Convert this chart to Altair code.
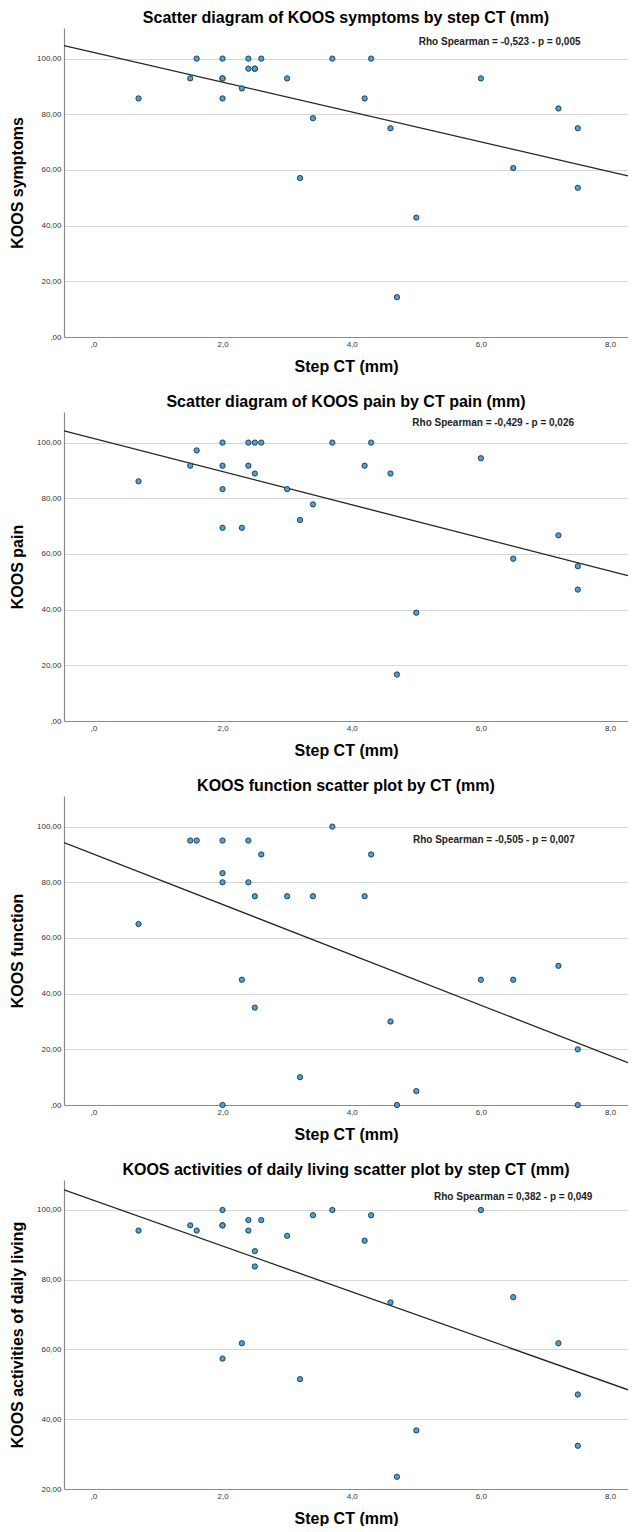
import altair as alt
import pandas as pd

# Step CT (mm), same patients in all four panels
step_ct = [0.7, 1.5, 1.6, 2.0, 2.0, 2.0, 2.0, 2.3, 2.4, 2.4, 2.5, 2.5, 2.6, 3.0,
           3.2, 3.4, 3.7, 4.2, 4.3, 4.6, 4.7, 5.0, 6.0, 6.5, 7.2, 7.5, 7.5]

koos_symptoms = [85.7, 92.9, 100, 100, 92.9, 92.9, 85.7, 89.3, 100, 96.4, 96.4, 96.4, 100, 92.9,
                 57.1, 78.6, 100, 85.7, 100, 75, 14.3, 42.9, 92.9, 60.7, 82.1, 75, 53.6]
koos_pain = [86.1, 91.7, 97.2, 100, 91.7, 83.3, 69.4, 69.4, 100, 91.7, 100, 88.9, 100, 83.3,
             72.2, 77.8, 100, 91.7, 100, 88.9, 16.7, 38.9, 94.4, 58.3, 66.7, 55.6, 47.2]
koos_function = [65, 95, 95, 95, 83.3, 80, 0, 45, 95, 80, 75, 35, 90, 75,
                 10, 75, 100, 75, 90, 30, 0, 5, 45, 45, 50, 20, 0]
koos_adl = [94.1, 95.6, 94.1, 100, 95.6, 95.6, 57.4, 61.8, 97.1, 94.1, 88.2, 83.8, 97.1, 92.6,
            51.5, 98.5, 100, 91.2, 98.5, 73.5, 23.5, 36.8, 100, 75, 61.8, 47.1, 32.4]

panel_titles = [
    "Scatter diagram of KOOS symptoms by step CT (mm)",
    "Scatter diagram of KOOS pain by CT pain (mm)",
    "KOOS function scatter plot by CT (mm)",
    "KOOS activities of daily living scatter plot by step CT (mm)",
]
y_titles = ["KOOS symptoms", "KOOS pain", "KOOS function", "KOOS activities of daily living"]
rho_texts = [
    "Rho Spearman = -0,523 - p = 0,005",
    "Rho Spearman = -0,429 - p = 0,026",
    "Rho Spearman = -0,505 - p = 0,007",
    "Rho Spearman = 0,382 - p = 0,049",
]
rho_x = [6.29, 6.19, 6.2, 6.5]
rho_y = [105.9, 107.0, 95.2, 103.7]
y_domains = [[0, 111], [0, 111], [0, 111], [20, 108.6]]
y_ticks = [[0, 20, 40, 60, 80, 100], [0, 20, 40, 60, 80, 100],
           [0, 20, 40, 60, 80, 100], [20, 40, 60, 80, 100]]
x_ticks = [0, 2, 4, 6, 8]
x_domain = [-0.454, 8.277]

series = [koos_symptoms, koos_pain, koos_function, koos_adl]

FONT = "Liberation Sans, Arial"


def panel(i):
    df = pd.DataFrame({"x": step_ct, "y": series[i]})
    xs = alt.Scale(domain=x_domain, nice=False, zero=False)
    ys = alt.Scale(domain=y_domains[i], nice=False, zero=False)
    xax = alt.Axis(values=x_ticks, title="Step CT (mm)", grid=False, ticks=False,
                   labelExpr="datum.value == 0 ? ',0' : replace(format(datum.value, '.1f'), '.', ',')",
                   labelPadding=3, titlePadding=10)
    yax = alt.Axis(values=y_ticks[i], title=y_titles[i], grid=True, ticks=False,
                   labelExpr="datum.value == 0 ? ',00' : replace(format(datum.value, '.2f'), '.', ',')",
                   labelPadding=3, minExtent=29, maxExtent=29, titlePadding=10)
    base = alt.Chart(df)
    pts = base.mark_point(filled=True, shape="circle", size=28, fill="#4aa3d8",
                          stroke="#1b3347", strokeWidth=0.9, opacity=1).encode(
        x=alt.X("x:Q", scale=xs, axis=xax),
        y=alt.Y("y:Q", scale=ys, axis=yax),
    )
    line = base.transform_regression("x", "y", extent=x_domain).mark_line(
        color="#222222", strokeWidth=1.3, clip=True).encode(
        x=alt.X("x:Q", scale=xs),
        y=alt.Y("y:Q", scale=ys),
    )
    tdf = pd.DataFrame({"x": [rho_x[i]], "y": [rho_y[i]], "t": [rho_texts[i]]})
    txt = alt.Chart(tdf).mark_text(font=FONT, fontWeight="bold", fontSize=10,
                                    color="#222222", align="center", baseline="middle").encode(
        x=alt.X("x:Q", scale=xs),
        y=alt.Y("y:Q", scale=ys),
        text="t:N",
    )
    return alt.layer(line, pts, txt).properties(
        width=564, height=309,
        title=alt.TitleParams(panel_titles[i], fontSize=16, font=FONT, fontWeight="bold",
                              color="#000000", frame="group", anchor="middle", offset=2.5),
    )


chart = alt.vconcat(*[panel(i) for i in range(4)], spacing=19).properties(
    padding={"left": 1, "top": 1, "right": 0, "bottom": 0}
).configure_view(stroke=None).configure_axis(
    labelFont=FONT, labelFontSize=8, labelColor="#333333",
    titleFont=FONT, titleFontSize=16, titleFontWeight="bold", titleColor="#000000",
    domainColor="#8a8a8a", domainWidth=1.2, gridColor="#d8d8d3", gridWidth=1.2,
)

chart.save("out.html", embed_options={"renderer": "svg", "actions": False})
